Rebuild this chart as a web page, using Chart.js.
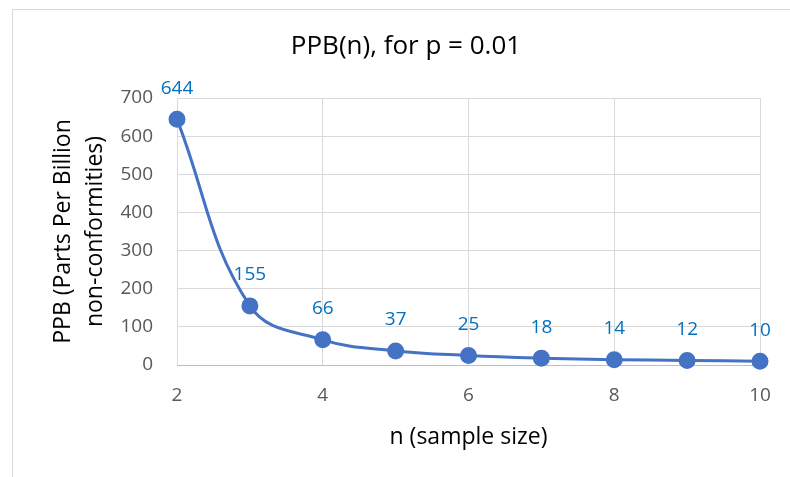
<!DOCTYPE html>
<html>
<head>
<meta charset="utf-8">
<script src="https://cdn.jsdelivr.net/npm/chart.js@4"></script>
<style>
  html, body { margin: 0; padding: 0; background: #fff; overflow: hidden; }
  #wrap { position: relative; width: 790px; height: 477px; }
  #frame { position: absolute; left: 12px; top: 9px; width: 800px; height: 500px; border: 1px solid #d9d9d9; box-sizing: border-box; }
  canvas { position: absolute; left: 0; top: 0; }
</style>
</head>
<body>
<div id="wrap">
  <div id="frame"></div>
  <canvas id="ppbChart" width="790" height="477"></canvas>
</div>
<script>
// data
const sampleSizes = [2, 3, 4, 5, 6, 7, 8, 9, 10];
const ppbValues = [644, 155, 66, 37, 25, 18, 14, 12, 10];
const xTicks = [2, 4, 6, 8, 10];
const yTicks = [0, 100, 200, 300, 400, 500, 600, 700];
const chartTitle = "PPB(n), for p = 0.01";

const fontFamily = "'Open Sans', 'Noto Sans', sans-serif";

// value above each point (like Excel data labels)
const valueLabels = {
    id: "valueLabels",
    afterDatasetsDraw(chart) {
        const ctx = chart.ctx;
        const meta = chart.getDatasetMeta(0);
        ctx.save();
        ctx.font = "19px " + fontFamily;
        ctx.fillStyle = "#0070C0";
        ctx.textAlign = "center";
        ctx.textBaseline = "middle";
        meta.data.forEach((pt, i) => {
            ctx.fillText(String(ppbValues[i]), pt.x, pt.y - 31);
        });
        ctx.restore();
    }
};

// the Excel title is centred on the whole (cropped) chart box, not on the canvas
const centredTitle = {
    id: "centredTitle",
    afterDraw(chart) {
        const ctx = chart.ctx;
        ctx.save();
        ctx.font = "26px " + fontFamily;
        ctx.fillStyle = "#000";
        ctx.textAlign = "center";
        ctx.textBaseline = "middle";
        ctx.fillText(chartTitle, 406, 47);
        ctx.restore();
    }
};

const ctx = document.getElementById("ppbChart").getContext("2d");
new Chart(ctx, {
    type: "line",
    data: {
        datasets: [{
            data: sampleSizes.map((n, i) => ({ x: n, y: ppbValues[i] })),
            borderColor: "#4472C4",
            backgroundColor: "#4472C4",
            borderWidth: 3,
            pointRadius: 7,
            pointHoverRadius: 7,
            tension: 0.4,
            fill: false,
            clip: false
        }]
    },
    options: {
        responsive: false,
        animation: false,
        layout: { padding: { left: 0, right: 30, top: 98, bottom: 0 } },
        plugins: {
            legend: { display: false },
            tooltip: { enabled: false },
            title: { display: false }
        },
        scales: {
            x: {
                type: "linear",
                min: 2,
                max: 10,
                afterBuildTicks(scale) { scale.ticks = xTicks.map(v => ({ value: v })); },
                afterFit(scale) { scale.height = 112; },
                grid: { color: "#d9d9d9", lineWidth: 1, drawTicks: false },
                border: { color: "#bfbfbf", width: 1 },
                ticks: { color: "#595959", padding: 19, font: { family: fontFamily, size: 19 } },
                title: {
                    display: true,
                    text: "n (sample size)",
                    color: "#000",
                    font: { family: fontFamily, size: 23 },
                    padding: { top: 0, bottom: 26 }
                }
            },
            y: {
                min: 0,
                max: 700,
                afterBuildTicks(scale) { scale.ticks = yTicks.map(v => ({ value: v })); },
                afterFit(scale) { scale.width = 177; },
                grid: { color: "#d9d9d9", lineWidth: 1, drawTicks: false },
                border: { display: false },
                ticks: { color: "#595959", padding: 24, font: { family: fontFamily, size: 19 } },
                title: {
                    display: true,
                    text: ["PPB (Parts Per Billion", "non-conformities)"],
                    color: "#000",
                    font: { family: fontFamily, size: 23, lineHeight: 1.39 },
                    padding: { top: 47, bottom: 0 }
                }
            }
        }
    },
    plugins: [valueLabels, centredTitle]
});
</script>
</body>
</html>
